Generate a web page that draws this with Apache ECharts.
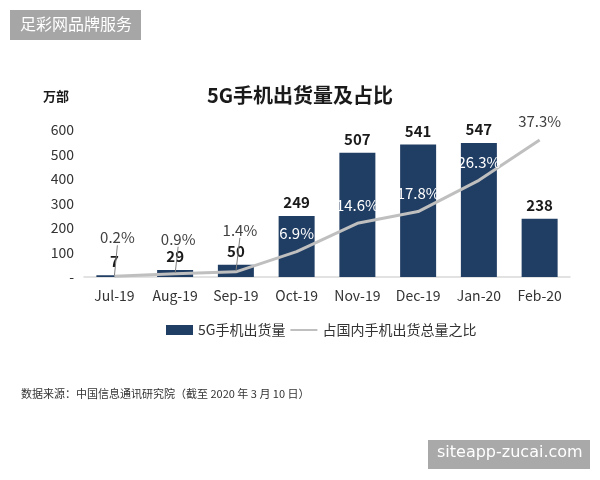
<!DOCTYPE html>
<html><head><meta charset="utf-8">
<script src="https://cdn.jsdelivr.net/npm/echarts@6/dist/echarts.min.js"></script>
<style>html,body{margin:0;padding:0;background:#fff}#c{width:600px;height:480px}</style>
</head><body><div id="c"></div>
<script>
const categories = ['Jul-19','Aug-19','Sep-19','Oct-19','Nov-19','Dec-19','Jan-20','Feb-20'];
const shipments = [7, 29, 50, 249, 507, 541, 547, 238];
const sharePct = [0.2, 0.9, 1.4, 6.9, 14.6, 17.8, 26.3, 37.3];
const yTicks = [0, 100, 200, 300, 400, 500, 600];

const FONT = '"Noto Sans CJK SC", "Noto Sans", sans-serif';
const chart = echarts.init(document.getElementById('c'));

const raised = [ {dx: 3, dy: -20}, {dx: 3, dy: -16}, {dx: 4, dy: -23} ];
const shareData = sharePct.map((v, i) => {
  const inside = i >= 3 && i <= 6;
  return {
    value: v,
    label: { color: inside ? '#ffffff' : '#404040' },
    labelLine: { show: i < 3 }
  };
});

chart.setOption({
  animation: false,
  textStyle: { fontFamily: FONT },
  title: {
    text: '5G手机出货量及占比',
    left: 'center', top: 80,
    textStyle: { fontSize: 20, fontWeight: 'bold', color: '#1a1a1a', fontFamily: FONT }
  },
  legend: {
    left: 161, top: 318,
    itemWidth: 27, itemHeight: 10, itemGap: 4,
    textStyle: { fontSize: 14, color: '#333', fontFamily: FONT },
    data: [
      { name: '5G手机出货量', icon: 'rect' },
      { name: '占国内手机出货总量之比' }
    ]
  },
  grid: { left: 84, right: 30, top: 130, bottom: 203 },
  xAxis: {
    type: 'category', data: categories,
    axisLine: { lineStyle: { color: '#d9d9d9', width: 1.5 } },
    axisTick: { show: false },
    axisLabel: { fontSize: 14, color: '#333', margin: 12, fontFamily: FONT }
  },
  yAxis: [
    {
      type: 'value', min: yTicks[0], max: yTicks[yTicks.length - 1], interval: 100,
      axisLine: { show: false }, axisTick: { show: false }, splitLine: { show: false },
      axisLabel: { fontSize: 14, color: '#333', margin: 10, fontFamily: FONT,
        formatter: v => v === 0 ? '-' : String(v) }
    },
    { type: 'value', min: 0, max: 40, show: false, splitLine: { show: false } }
  ],
  series: [
    {
      name: '5G手机出货量', type: 'bar', data: shipments, barWidth: 36,
      itemStyle: { color: '#203d63' },
      label: { show: true, position: 'top', distance: 6, fontSize: 15, fontWeight: 'bold',
        color: '#1a1a1a', fontFamily: FONT },
      z: 2
    },
    {
      name: '占国内手机出货总量之比', type: 'line', yAxisIndex: 1, data: shareData,
      symbol: 'circle', symbolSize: 2, showSymbol: true,
      lineStyle: { color: '#bfbfbf', width: 3 },
      itemStyle: { color: 'rgba(0,0,0,0)', borderWidth: 0 },
      label: { show: true, position: 'top', distance: 10, fontSize: 15,
        formatter: p => p.value + '%', fontFamily: FONT },
      labelLine: { show: false, lineStyle: { color: '#7f7f7f', width: 1 } },
      labelLayout: p => (p.dataIndex < 3 ? raised[p.dataIndex] : {}),
      z: 3
    }
  ],
  graphic: [
    { type: 'rect', left: 10, top: 10, shape: { width: 131, height: 30 },
      style: { fill: '#a6a6a6' }, z: 10 },
    { type: 'text', left: 20, top: 16, z: 11,
      style: { text: '足彩网品牌服务', fill: '#ffffff', fontSize: 16, fontFamily: FONT } },
    { type: 'rect', left: 428, top: 440, shape: { width: 162, height: 29 },
      style: { fill: '#a9a9a9' }, z: 10 },
    { type: 'text', left: 437, top: 445, z: 11,
      style: { text: 'siteapp-zucai.com', fill: '#ffffff', fontSize: 16, fontFamily: '"DejaVu Sans", sans-serif' } },
    { type: 'text', left: 43, top: 90,
      style: { text: '万部', fill: '#1a1a1a', fontSize: 13, fontWeight: 'bold', fontFamily: FONT } },
    { type: 'text', left: 21, top: 388,
      style: { text: '数据来源：中国信息通讯研究院（截至 2020 年 3 月 10 日）', fill: '#333', fontSize: 11, fontFamily: FONT } }
  ]
});
</script></body></html>
